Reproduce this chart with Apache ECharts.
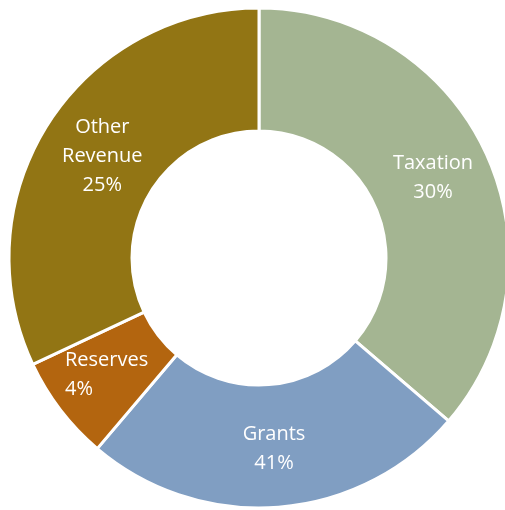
<!DOCTYPE html>
<html>
<head>
<meta charset="utf-8">
<script src="https://cdn.jsdelivr.net/npm/echarts@6/dist/echarts.min.js"></script>
<style>
html,body{margin:0;padding:0;background:#fff;}
#chart{width:505px;height:510px;}
</style>
</head>
<body>
<div id="chart"></div>
<script>
const categories = ['Taxation', 'Grants', 'Reserves', 'Other Revenue'];
const sliceValues = [36.3, 24.9, 6.8, 32.0];
const percentLabels = ['30%', '41%', '4%', '25%'];
const colors = ['#A4B592', '#809EC2', '#B3650F', '#927514'];

const chart = echarts.init(document.getElementById('chart'), null, {renderer: 'canvas'});
const data = categories.map((c, i) => {
  const d = {name: c, value: sliceValues[i], itemStyle: {color: colors[i]}};
  if (c === 'Reserves') {
    d.label = {
      formatter: p => '{l|' + p.name + '}\n{l|' + percentLabels[p.dataIndex] + '}',
      rich: {l: {width: 84, align: 'left', color: '#ffffff', fontFamily: 'Open Sans', fontSize: 20, lineHeight: 29}}
    };
  }
  if (c === 'Other Revenue') {
    d.label = {offset: [5, 1]};
  }
  return d;
});
chart.setOption({
  animation: false,
  series: [{
    type: 'pie',
    center: [259, 258],
    radius: [127, 250],
    startAngle: 90,
    clockwise: true,
    avoidLabelOverlap: false,
    itemStyle: {borderColor: '#ffffff', borderWidth: 3},
    label: {
      show: true,
      position: 'inside',
      color: '#ffffff',
      fontFamily: 'Open Sans',
      fontSize: 20,
      lineHeight: 29,
      formatter: p => p.name.replace(' ', '\n') + '\n' + percentLabels[p.dataIndex]
    },
    labelLine: {show: false},
    emphasis: {disabled: true},
    data: data
  }]
});
</script>
</body>
</html>
